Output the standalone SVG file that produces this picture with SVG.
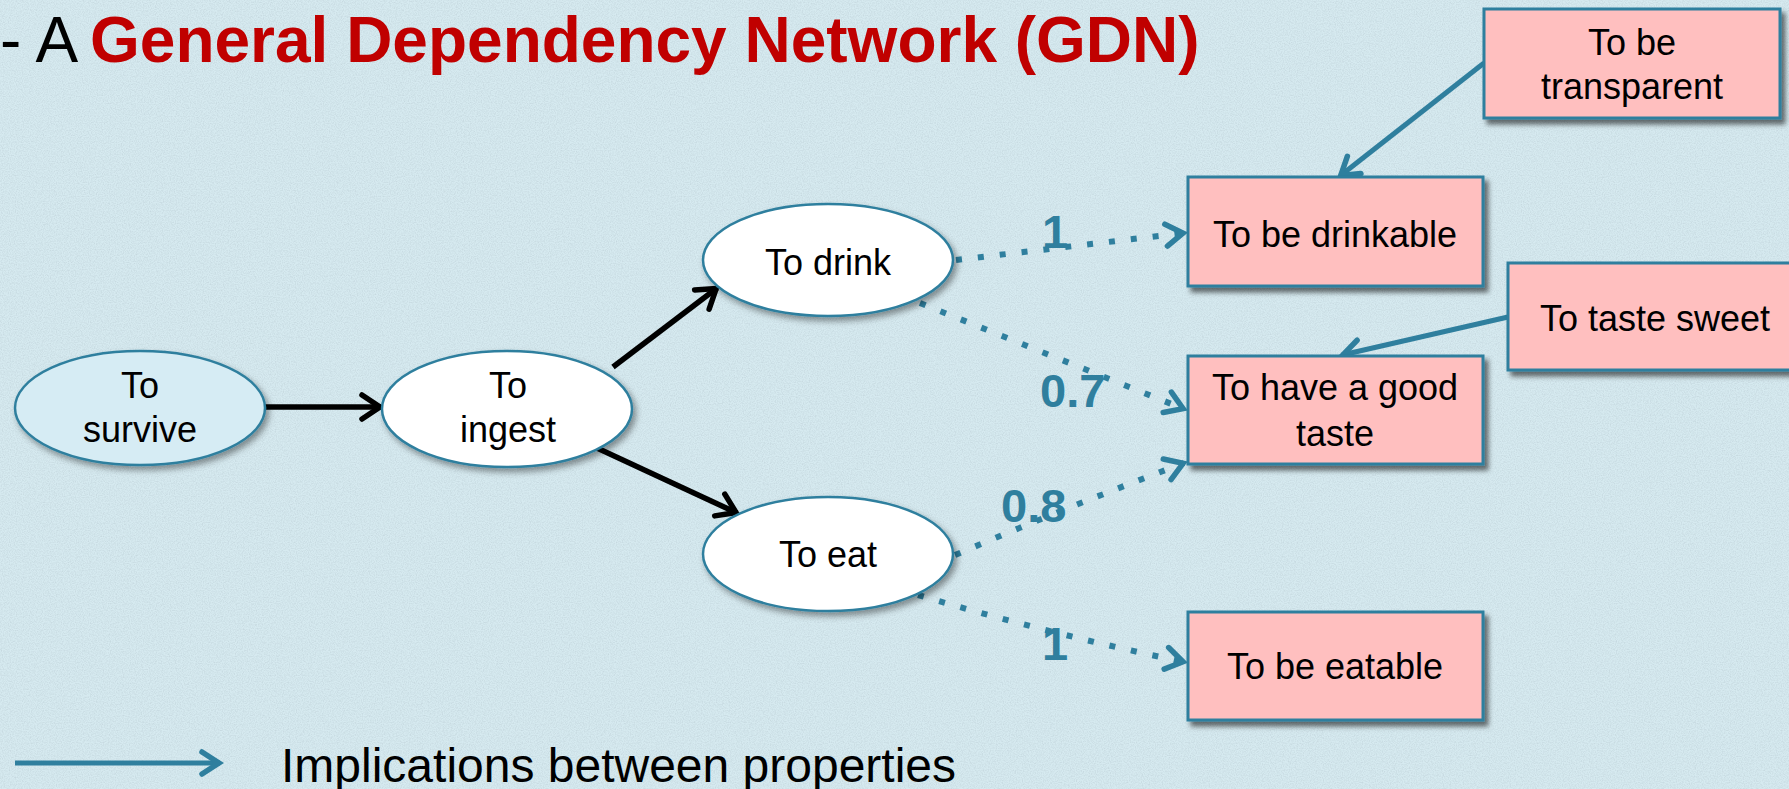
<svg xmlns="http://www.w3.org/2000/svg" width="1789" height="789" viewBox="0 0 1789 789">
<style>
  .t { font-family: "Liberation Sans", Arial, sans-serif; fill: #000; }
  .nt { font-size: 36px; text-anchor: middle; }
  .box rect { fill: #FFBFBF; stroke: #2F7F9E; stroke-width: 3; }
  .ell ellipse { fill: #FFFFFF; stroke: #2F7F9E; stroke-width: 2.5; }
  .blk { fill: none; stroke: #000; stroke-width: 5.5; }
  .blu { fill: none; stroke: #2F7F9E; stroke-width: 5; }
  .dot { fill: none; stroke: #2F7F9E; stroke-width: 6; stroke-dasharray: 6 16; }
  .lbl { font-family: "Liberation Sans", Arial, sans-serif; font-weight: bold; font-size: 47px; fill: #2F7F9E; }
</style>
<defs>
  <filter id="noise" x="0" y="0" width="100%" height="100%">
    <feTurbulence type="fractalNoise" baseFrequency="0.85" numOctaves="2" seed="3" result="n"/>
    <feColorMatrix in="n" type="matrix" values="0 0 0 0 0.45  0 0 0 0 0.55  0 0 0 0 0.6  0 0 0 1.4 -0.5"/>
  </filter>
  <filter id="sh" x="-10%" y="-10%" width="125%" height="130%">
    <feDropShadow dx="4" dy="5" stdDeviation="2.5" flood-color="#000" flood-opacity="0.55"/>
  </filter>
  <filter id="shE" x="-10%" y="-10%" width="125%" height="130%">
    <feDropShadow dx="3" dy="4" stdDeviation="3" flood-color="#000" flood-opacity="0.4"/>
  </filter>
  <marker id="ab" viewBox="-24 -16 28 32" refX="0" refY="0" markerWidth="28" markerHeight="32" markerUnits="userSpaceOnUse" orient="auto">
    <path d="M-19,-12 L-1,0 L-19,12" fill="none" stroke="#000" stroke-width="5.5" stroke-linecap="round"/>
  </marker>
  <marker id="au" viewBox="-24 -16 28 32" refX="0" refY="0" markerWidth="28" markerHeight="32" markerUnits="userSpaceOnUse" orient="auto">
    <path d="M-18,-11 L-1,0 L-18,11" fill="none" stroke="#2F7F9E" stroke-width="5.5" stroke-linecap="round"/>
  </marker>
</defs>

<rect x="0" y="0" width="1789" height="789" fill="#D6EAF0"/>
<rect x="0" y="0" width="1789" height="789" filter="url(#noise)" opacity="0.6"/>

<g id="title">
  <text class="t" x="0" y="62" font-size="64">- A</text>
  <text class="t" x="90" y="62" font-size="64" font-weight="bold" style="fill:#C00000">General Dependency Network (GDN)</text>
</g>

<g id="connectors">
  <line class="blk" x1="265" y1="407" x2="381" y2="407" marker-end="url(#ab)"/>
  <line class="blk" x1="613" y1="367" x2="717" y2="288" marker-end="url(#ab)"/>
  <line class="blk" x1="597" y1="448" x2="737" y2="513" marker-end="url(#ab)"/>
  <line class="blu" x1="1484" y1="63" x2="1340" y2="176" marker-end="url(#au)"/>
  <line class="blu" x1="1508" y1="317" x2="1342" y2="355" marker-end="url(#au)"/>
  <path class="dot" d="M956,260 L1184,233" marker-end="url(#au)"/>
  <path class="dot" d="M920,303 L1184,409" marker-end="url(#au)"/>
  <path class="dot" d="M955,555 Q1070,506 1184,463" marker-end="url(#au)"/>
  <path class="dot" d="M918,595 Q1050,634 1184,662" marker-end="url(#au)"/>
</g>

<g id="labels">
  <text class="lbl" x="1055" y="248" text-anchor="middle">1</text>
  <text class="lbl" x="1040" y="407">0.7</text>
  <text class="lbl" x="1001" y="522">0.8</text>
  <text class="lbl" x="1055" y="660" text-anchor="middle">1</text>
</g>

<g id="n-survive" class="ell">
  <ellipse cx="140" cy="408" rx="125" ry="57" filter="url(#shE)" style="fill:#D6ECF4"/>
  <text class="t nt" x="140" y="398">To</text>
  <text class="t nt" x="140" y="442">survive</text>
</g>
<g id="n-ingest" class="ell">
  <ellipse cx="507" cy="409" rx="125" ry="58" filter="url(#shE)"/>
  <text class="t nt" x="508" y="398">To</text>
  <text class="t nt" x="508" y="442">ingest</text>
</g>
<g id="n-drink" class="ell">
  <ellipse cx="828" cy="260" rx="125" ry="56" filter="url(#shE)"/>
  <text class="t nt" x="828" y="275">To drink</text>
</g>
<g id="n-eat" class="ell">
  <ellipse cx="828" cy="554" rx="125" ry="57" filter="url(#shE)"/>
  <text class="t nt" x="828" y="567">To eat</text>
</g>

<g id="n-transparent" class="box">
  <rect x="1484" y="9" width="296" height="109" filter="url(#sh)"/>
  <text class="t nt" x="1632" y="55">To be</text>
  <text class="t nt" x="1632" y="99">transparent</text>
</g>
<g id="n-drinkable" class="box">
  <rect x="1188" y="177" width="295" height="109" filter="url(#sh)"/>
  <text class="t nt" x="1335" y="247">To be drinkable</text>
</g>
<g id="n-sweet" class="box">
  <rect x="1508" y="263" width="295" height="107" filter="url(#sh)"/>
  <text class="t nt" x="1655" y="331">To taste sweet</text>
</g>
<g id="n-goodtaste" class="box">
  <rect x="1188" y="356" width="295" height="108" filter="url(#sh)"/>
  <text class="t nt" x="1335" y="400">To have a good</text>
  <text class="t nt" x="1335" y="446">taste</text>
</g>
<g id="n-eatable" class="box">
  <rect x="1188" y="612" width="295" height="108" filter="url(#sh)"/>
  <text class="t nt" x="1335" y="679">To be eatable</text>
</g>

<g id="legend">
  <line class="blu" x1="15" y1="763" x2="220" y2="763" marker-end="url(#au)"/>
  <text class="t" x="281" y="782" font-size="48">Implications between properties</text>
</g>
</svg>
